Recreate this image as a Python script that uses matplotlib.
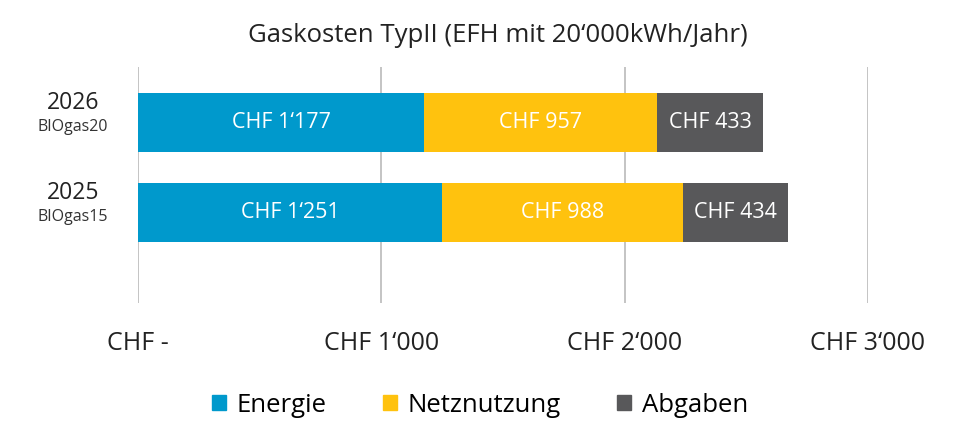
import numpy as np
import matplotlib.pyplot as plt
from matplotlib.patches import Patch

plt.rcParams['font.family'] = ['Open Sans', 'DejaVu Sans']

years = ["2025", "2026"]
products = ["BIOgas15", "BIOgas20"]
series = ["Energie", "Netznutzung", "Abgaben"]
energie = [1251, 1177]
netz = [988, 957]
abgaben = [434, 433]
colors = ["#0099CC", "#FFC20E", "#58585A"]
xticks = [0, 1000, 2000, 3000]
xticklabels = ["CHF -", "CHF 1‘000", "CHF 2‘000", "CHF 3‘000"]


def chf(v):
    return "CHF " + "{:,}".format(v).replace(",", "‘")


fig = plt.figure(figsize=(9.6, 4.37), dpi=100)
ax = fig.add_axes([138 / 960, 1 - 303 / 437, 730 / 960, 236 / 437])

y = np.arange(len(years))
left = np.zeros(len(years))
for vals, name, c in zip([energie, netz, abgaben], series, colors):
    bars = ax.barh(y, vals, left=left, height=0.656, color=c, label=name, zorder=2)
    for b, v in zip(bars, vals):
        ax.text(b.get_x() + b.get_width() / 2, b.get_y() + b.get_height() / 2, chf(v),
                ha="center", va="center", color="white", fontsize=15.5)
    left += np.array(vals)

ax.set_xlim(0, 3000)
ax.set_ylim(-1.006, 1.617)
ax.set_xticks(xticks)
ax.set_xticklabels(xticklabels, fontsize=18, color="#222222")
ax.set_yticks([])
ax.tick_params(axis="x", length=0, pad=20)
ax.grid(axis="x", color="#BFBFBF", linewidth=1.3, zorder=0)
for s in ax.spines.values():
    s.set_visible(False)

for yi, yr, pr in zip(y, years, products):
    ax.text(-0.089, yi + 0.08, yr, transform=ax.get_yaxis_transform(),
            ha="center", va="bottom", fontsize=16.5, color="#222222")
    ax.text(-0.089, yi + 0.04, pr, transform=ax.get_yaxis_transform(),
            ha="center", va="top", fontsize=11.5, color="#333333")

fig.text(498 / 960, 1 - 35 / 437, "Gaskosten TypII (EFH mit 20‘000kWh/Jahr)",
         ha="center", va="center", fontsize=18.5, color="#222222")

handles = [Patch(color=c, label=n) for c, n in zip(colors, series)]
fig.legend(handles=handles, loc="center", bbox_to_anchor=(480 / 960, 1 - 405 / 437),
           ncol=3, frameon=False, fontsize=18.5, handlelength=0.55, handleheight=0.55,
           handletextpad=0.4, columnspacing=2.2)

fig.savefig("out.png", dpi=100)
